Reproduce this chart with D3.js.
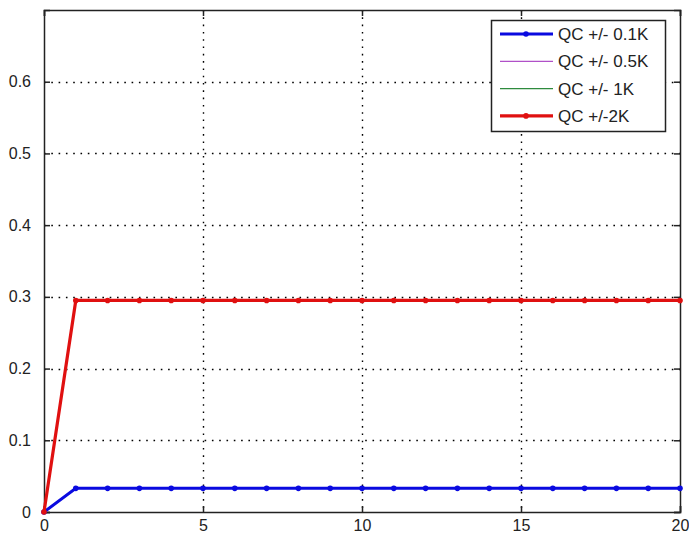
<html>
<head>
  <script src="https://cdn.jsdelivr.net/npm/d3@7"></script>
  <style>
    body { margin: 0; background: #fff; }
    text { font-family: "Liberation Sans", Arial, sans-serif; }
  </style>
</head>
<body>
<svg width="689" height="535"></svg>
<script type="text/javascript">

// data
let steps = [0,1,2,3,4,5,6,7,8,9,10,11,12,13,14,15,16,17,18,19,20]
let qc01 = [0,0.033,0.033,0.033,0.033,0.033,0.033,0.033,0.033,0.033,0.033,0.033,0.033,0.033,0.033,0.033,0.033,0.033,0.033,0.033,0.033]
let qc05 = [0,0.295,0.295,0.295,0.295,0.295,0.295,0.295,0.295,0.295,0.295,0.295,0.295,0.295,0.295,0.295,0.295,0.295,0.295,0.295,0.295]
let qc1  = [0,0.295,0.295,0.295,0.295,0.295,0.295,0.295,0.295,0.295,0.295,0.295,0.295,0.295,0.295,0.295,0.295,0.295,0.295,0.295,0.295]
let qc2  = [0,0.295,0.295,0.295,0.295,0.295,0.295,0.295,0.295,0.295,0.295,0.295,0.295,0.295,0.295,0.295,0.295,0.295,0.295,0.295,0.295]
let xTicks = [0,5,10,15,20]
let yTicks = [0,0.1,0.2,0.3,0.4,0.5,0.6]

let series = [
  {name:"QC +/- 0.1K", values:qc01, color:"#0a0ae0", width:3, marker:true},
  {name:"QC +/- 0.5K", values:qc05, color:"#b050c8", width:1.2, marker:false},
  {name:"QC +/- 1K",   values:qc1,  color:"#2e8b3e", width:1.2, marker:false},
  {name:"QC +/-2K",    values:qc2,  color:"#e01010", width:3.2, marker:true}
]

let mLeft = 44, mRight = 680, mTop = 10, mBottom = 512

let svg = d3.select('svg')

let x = d3.scaleLinear().domain([0,20]).range([mLeft,mRight])
let y = d3.scaleLinear().domain([0,0.7]).range([mBottom,mTop])

// grid
let grid = svg.append("g")
grid.selectAll(".gx").data(xTicks.slice(1,-1)).enter().append("line")
  .attr("x1",d=>x(d)+0.5).attr("x2",d=>x(d)+0.5)
  .attr("y1",mTop).attr("y2",mBottom)
  .attr("stroke","#000").attr("stroke-width",1.4).attr("stroke-dasharray","1.6,5.7")
grid.selectAll(".gy").data(yTicks.slice(1)).enter().append("line")
  .attr("x1",mLeft).attr("x2",mRight)
  .attr("y1",d=>Math.round(y(d))+0.5).attr("y2",d=>Math.round(y(d))+0.5)
  .attr("stroke","#000").attr("stroke-width",1.4).attr("stroke-dasharray","1.6,5.7")

// axes (ticks inside, like matlab)
svg.append("g").attr("transform","translate(0,"+mBottom+")")
  .call(d3.axisBottom(x).tickValues(xTicks).tickSize(-6).tickPadding(8).tickFormat(d3.format("d")))
svg.append("g").attr("transform","translate(0,"+mTop+")")
  .call(d3.axisTop(x).tickValues(xTicks).tickSize(-6).tickFormat(""))
svg.append("g").attr("transform","translate("+mLeft+",0)")
  .call(d3.axisLeft(y).tickValues(yTicks).tickSize(-6).tickPadding(13).tickFormat(d=>d==0?"0":d3.format(".1f")(d)))
svg.append("g").attr("transform","translate("+mRight+",0)")
  .call(d3.axisRight(y).tickValues(yTicks).tickSize(-6).tickFormat(""))

svg.selectAll(".domain").attr("stroke","#222").attr("stroke-width",1.5)
svg.selectAll(".tick line").attr("stroke","#222").attr("stroke-width",1.5)
svg.selectAll(".tick text").attr("font-size","16px").attr("fill","#222")

// lines
let line = d3.line().x((d,i)=>x(steps[i])).y(d=>y(d))
series.forEach(function(s){
  svg.append("path").datum(s.values)
    .attr("d",line).attr("fill","none")
    .attr("stroke",s.color).attr("stroke-width",s.width)
  if(s.marker){
    svg.append("g").selectAll("circle").data(s.values).enter().append("circle")
      .attr("cx",(d,i)=>x(steps[i])).attr("cy",d=>y(d)).attr("r",2.8)
      .attr("fill",s.color)
  }
})

// legend
let lg = svg.append("g")
lg.append("rect").attr("x",491.5).attr("y",20.5).attr("width",174).attr("height",111)
  .attr("fill","#fff").attr("stroke","#222").attr("stroke-width",1.5)
series.forEach(function(s,i){
  let yy = 34 + i*27.3
  lg.append("line").attr("x1",500).attr("x2",553).attr("y1",yy).attr("y2",yy)
    .attr("stroke",s.color).attr("stroke-width",s.width)
  if(s.marker){
    lg.append("circle").attr("cx",526).attr("cy",yy).attr("r",2.8).attr("fill",s.color)
  }
  lg.append("text").attr("x",558).attr("y",yy+6).attr("font-size","17px").attr("fill","#222")
    .text(s.name)
})

</script>
</body>
</html>
